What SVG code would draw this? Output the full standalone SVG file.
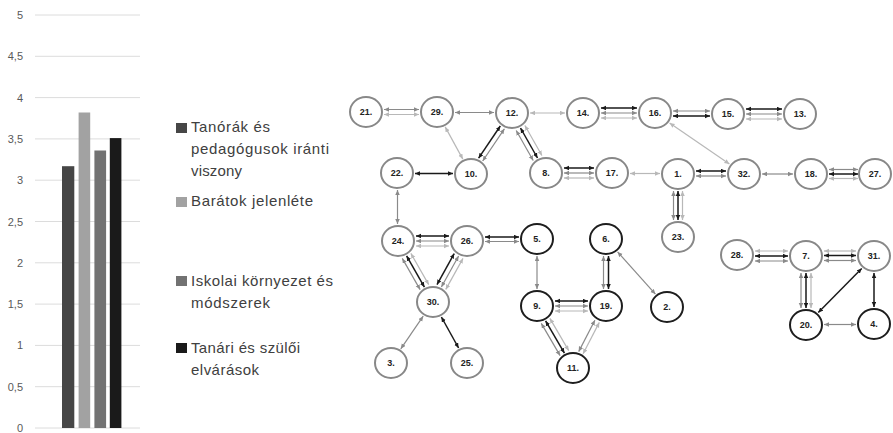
<svg xmlns="http://www.w3.org/2000/svg" width="893" height="433" viewBox="0 0 893 433">
  <style>
    .axis { font-family: "Liberation Sans", Arial, sans-serif; font-size: 11px; fill: #595959; text-anchor: end; }
    .grid { stroke: #dcdcdc; stroke-width: 1; }
    .leg { font-family: "Liberation Sans", Arial, sans-serif; font-size: 15px; fill: #404040; }
    .nd ellipse { fill: #fff; stroke: #888; stroke-width: 2; }
    .nd.k ellipse { stroke: #1e1e1e; }
    .nd text { font-family: "Liberation Sans", Arial, sans-serif; font-weight: bold; font-size: 9px; fill: #222; text-anchor: middle; }
    .b { stroke: #1a1a1a; stroke-width: 1.5; marker-start: url(#mb); marker-end: url(#mb); }
    .g { stroke: #8a8a8a; stroke-width: 1.2; marker-start: url(#mg); marker-end: url(#mg); }
    .l { stroke: #b8b8b8; stroke-width: 1.2; marker-start: url(#ml); marker-end: url(#ml); }
  </style>
  <defs>
    <marker id="mb" markerUnits="userSpaceOnUse" markerWidth="6" markerHeight="5" refX="5" refY="2.25" orient="auto-start-reverse"><path d="M0,0 L5,2.25 L0,4.5 z" fill="#1a1a1a"/></marker>
    <marker id="mg" markerUnits="userSpaceOnUse" markerWidth="6" markerHeight="5" refX="5" refY="2.25" orient="auto-start-reverse"><path d="M0,0 L5,2.25 L0,4.5 z" fill="#8a8a8a"/></marker>
    <marker id="ml" markerUnits="userSpaceOnUse" markerWidth="6" markerHeight="5" refX="5" refY="2.25" orient="auto-start-reverse"><path d="M0,0 L5,2.25 L0,4.5 z" fill="#b8b8b8"/></marker>
  </defs>
  <rect width="893" height="433" fill="#fff"/>

  <!-- bar chart -->
  <g id="chart">
    <g class="grid">
      <line x1="35" y1="428" x2="140" y2="428"/>
      <line x1="35" y1="386.7" x2="140" y2="386.7"/>
      <line x1="35" y1="345.4" x2="140" y2="345.4"/>
      <line x1="35" y1="304.1" x2="140" y2="304.1"/>
      <line x1="35" y1="262.8" x2="140" y2="262.8"/>
      <line x1="35" y1="221.5" x2="140" y2="221.5"/>
      <line x1="35" y1="180.2" x2="140" y2="180.2"/>
      <line x1="35" y1="138.9" x2="140" y2="138.9"/>
      <line x1="35" y1="97.6" x2="140" y2="97.6"/>
      <line x1="35" y1="56.3" x2="140" y2="56.3"/>
      <line x1="35" y1="15" x2="140" y2="15"/>
    </g>
    <g class="axis">
      <text x="23" y="432">0</text>
      <text x="23" y="390.7">0,5</text>
      <text x="23" y="349.4">1</text>
      <text x="23" y="308.1">1,5</text>
      <text x="23" y="266.8">2</text>
      <text x="23" y="225.5">2,5</text>
      <text x="23" y="184.2">3</text>
      <text x="23" y="142.9">3,5</text>
      <text x="23" y="101.6">4</text>
      <text x="23" y="60.3">4,5</text>
      <text x="23" y="19">5</text>
    </g>
    <rect x="62" y="166.2" width="12.3" height="261.8" fill="#464646"/>
    <rect x="78.6" y="112.5" width="11.6" height="315.5" fill="#a2a2a2"/>
    <rect x="94.4" y="150.5" width="11.7" height="277.5" fill="#727272"/>
    <rect x="109.8" y="138.1" width="11.6" height="289.9" fill="#1a1a1a"/>
  </g>

  <!-- legend -->
  <g id="legend">
    <rect x="176" y="123" width="11" height="10" fill="#464646"/>
    <text class="leg" x="191" y="132" textLength="79" lengthAdjust="spacing">Tanórák és</text>
    <text class="leg" x="191" y="154" textLength="138" lengthAdjust="spacing">pedagógusok iránti</text>
    <text class="leg" x="191" y="176" textLength="51" lengthAdjust="spacing">viszony</text>
    <rect x="176" y="197" width="11" height="10" fill="#a2a2a2"/>
    <text class="leg" x="191" y="206" textLength="122" lengthAdjust="spacing">Barátok jelenléte</text>
    <rect x="176" y="276" width="11" height="10" fill="#727272"/>
    <text class="leg" x="191" y="286" textLength="142" lengthAdjust="spacing">Iskolai környezet és</text>
    <text class="leg" x="191" y="308" textLength="79" lengthAdjust="spacing">módszerek</text>
    <rect x="176" y="343" width="11" height="10" fill="#1a1a1a"/>
    <text class="leg" x="191" y="353" textLength="109" lengthAdjust="spacing">Tanári és szülői</text>
    <text class="leg" x="191" y="375" textLength="68" lengthAdjust="spacing">elvárások</text>
  </g>

  <!-- connectors -->
  <g id="edges">
    <!-- 21-29 -->
    <line class="g" x1="384" y1="109.5" x2="419" y2="109.5"/>
    <line class="l" x1="384" y1="114.5" x2="419" y2="114.5"/>
    <!-- 29-12 -->
    <line class="g" x1="455" y1="112.5" x2="494" y2="112.5"/>
    <!-- 12-14 -->
    <line class="l" x1="530" y1="113" x2="565" y2="113"/>
    <!-- 14-16 -->
    <line class="b" x1="601" y1="108" x2="637" y2="108"/>
    <line class="g" x1="601" y1="113" x2="637" y2="113"/>
    <line class="l" x1="601" y1="118" x2="637" y2="118"/>
    <!-- 16-15 -->
    <line class="g" x1="673" y1="111" x2="710" y2="111"/>
    <line class="b" x1="673" y1="116" x2="710" y2="116"/>
    <!-- 15-13 -->
    <line class="b" x1="746" y1="109" x2="782" y2="109"/>
    <line class="g" x1="746" y1="114" x2="782" y2="114"/>
    <line class="l" x1="746" y1="119" x2="782" y2="119"/>
    <!-- 29-10 -->
    <line class="l" x1="445.2" y1="126.9" x2="462.8" y2="159.1"/>
    <!-- 10-12 -->
    <line class="b" x1="478.6" y1="158.2" x2="500.3" y2="126"/>
    <line class="g" x1="482.7" y1="161" x2="504.4" y2="128.8"/>
    <!-- 12-8 -->
    <line class="g" x1="516.2" y1="130.5" x2="533.2" y2="160.5"/>
    <line class="b" x1="520.5" y1="128" x2="537.5" y2="158"/>
    <line class="l" x1="524.9" y1="125.5" x2="541.9" y2="155.5"/>
    <!-- 22-10 -->
    <line class="b" x1="415" y1="173.5" x2="453" y2="173.5"/>
    <!-- 8-17 -->
    <line class="b" x1="564" y1="168" x2="594" y2="168"/>
    <line class="g" x1="564" y1="173" x2="594" y2="173"/>
    <line class="l" x1="564" y1="178" x2="594" y2="178"/>
    <!-- 17-1 -->
    <line class="l" x1="630" y1="173.5" x2="660" y2="173.5"/>
    <!-- 1-32 -->
    <line class="b" x1="696" y1="171" x2="726" y2="171"/>
    <line class="g" x1="696" y1="176" x2="726" y2="176"/>
    <!-- 16-32 -->
    <line class="l" x1="669.6" y1="123" x2="729.4" y2="164"/>
    <!-- 32-18 -->
    <line class="g" x1="762" y1="174" x2="793" y2="174"/>
    <!-- 18-27 -->
    <line class="g" x1="829" y1="169.5" x2="858" y2="169.5"/>
    <line class="b" x1="829" y1="174" x2="858" y2="174"/>
    <line class="l" x1="829" y1="178.5" x2="858" y2="178.5"/>
    <!-- 1-23 -->
    <line class="g" x1="673.5" y1="191" x2="673.5" y2="220"/>
    <line class="b" x1="678" y1="191" x2="678" y2="220"/>
    <line class="l" x1="682.5" y1="191" x2="682.5" y2="220"/>
    <!-- 22-24 -->
    <line class="g" x1="397.5" y1="190" x2="397.5" y2="224"/>
    <!-- 24-26 -->
    <line class="b" x1="416" y1="236" x2="449" y2="236"/>
    <line class="g" x1="416" y1="241" x2="449" y2="241"/>
    <line class="l" x1="416" y1="246" x2="449" y2="246"/>
    <!-- 26-5 -->
    <line class="b" x1="485" y1="237" x2="519" y2="237"/>
    <line class="g" x1="485" y1="241.5" x2="519" y2="241.5"/>
    <!-- 24-30 -->
    <line class="g" x1="402.3" y1="258.4" x2="420.1" y2="289.6"/>
    <line class="b" x1="406.6" y1="255.9" x2="424.4" y2="287.1"/>
    <line class="l" x1="410.9" y1="253.4" x2="428.7" y2="284.6"/>
    <!-- 26-30 -->
    <line class="b" x1="454.2" y1="253.6" x2="437" y2="284.6"/>
    <line class="g" x1="458.6" y1="256" x2="441.4" y2="287"/>
    <line class="l" x1="463" y1="258.4" x2="445.8" y2="289.4"/>
    <!-- 30-3 -->
    <line class="g" x1="423.2" y1="316.2" x2="400.8" y2="348.8"/>
    <!-- 30-25 -->
    <line class="b" x1="441.4" y1="317" x2="458.6" y2="348"/>
    <!-- 5-9 -->
    <line class="g" x1="537" y1="256" x2="537" y2="289"/>
    <!-- 6-19 -->
    <line class="g" x1="603.5" y1="256" x2="603.5" y2="289"/>
    <line class="b" x1="608.5" y1="256" x2="608.5" y2="289"/>
    <!-- 6-2 -->
    <line class="g" x1="617.6" y1="251.9" x2="655.4" y2="294.1"/>
    <!-- 9-19 -->
    <line class="b" x1="555" y1="301" x2="588" y2="301"/>
    <line class="g" x1="555" y1="306" x2="588" y2="306"/>
    <line class="l" x1="555" y1="311" x2="588" y2="311"/>
    <!-- 9-11 -->
    <line class="g" x1="541.3" y1="323.4" x2="560.1" y2="355.6"/>
    <line class="b" x1="545.6" y1="320.9" x2="564.4" y2="353.1"/>
    <line class="l" x1="549.9" y1="318.4" x2="568.7" y2="350.6"/>
    <!-- 19-11 -->
    <line class="g" x1="594.9" y1="320.2" x2="578.7" y2="351.6"/>
    <line class="l" x1="599.3" y1="322.4" x2="583.1" y2="353.8"/>
    <!-- 28-7 -->
    <line class="l" x1="755" y1="251" x2="788" y2="251"/>
    <line class="b" x1="755" y1="256" x2="788" y2="256"/>
    <line class="g" x1="755" y1="261" x2="788" y2="261"/>
    <!-- 7-31 -->
    <line class="l" x1="824" y1="251" x2="856" y2="251"/>
    <line class="b" x1="824" y1="255.5" x2="856" y2="255.5"/>
    <line class="g" x1="824" y1="260.5" x2="856" y2="260.5"/>
    <!-- 7-20 -->
    <line class="g" x1="801" y1="273" x2="801" y2="308"/>
    <line class="b" x1="806" y1="273" x2="806" y2="308"/>
    <line class="l" x1="811" y1="273" x2="811" y2="308"/>
    <!-- 31-20 -->
    <line class="b" x1="861.7" y1="268.5" x2="818.3" y2="312.5"/>
    <!-- 31-4 -->
    <line class="b" x1="874" y1="273" x2="874" y2="307"/>
    <!-- 20-4 -->
    <line class="g" x1="824" y1="324.5" x2="856" y2="324.5"/>
  </g>

  <!-- nodes -->
  <g id="n21" class="nd"><ellipse cx="366" cy="112" rx="16" ry="15"/><text x="366" y="115.2">21.</text></g>
  <g id="n29" class="nd"><ellipse cx="437" cy="112" rx="16" ry="15"/><text x="437" y="115.2">29.</text></g>
  <g id="n12" class="nd"><ellipse cx="512" cy="113" rx="16" ry="15"/><text x="512" y="116.2">12.</text></g>
  <g id="n14" class="nd"><ellipse cx="583" cy="113" rx="16" ry="15"/><text x="583" y="116.2">14.</text></g>
  <g id="n16" class="nd"><ellipse cx="655" cy="113" rx="16" ry="15"/><text x="655" y="116.2">16.</text></g>
  <g id="n15" class="nd"><ellipse cx="728" cy="114" rx="16" ry="15"/><text x="728" y="117.2">15.</text></g>
  <g id="n13" class="nd"><ellipse cx="800" cy="114" rx="16" ry="15"/><text x="800" y="117.2">13.</text></g>
  <g id="n22" class="nd"><ellipse cx="397" cy="173" rx="16" ry="15"/><text x="397" y="176.2">22.</text></g>
  <g id="n10" class="nd"><ellipse cx="471" cy="174" rx="16" ry="15"/><text x="471" y="177.2">10.</text></g>
  <g id="n8" class="nd"><ellipse cx="546" cy="173" rx="16" ry="15"/><text x="546" y="176.2">8.</text></g>
  <g id="n17" class="nd"><ellipse cx="612" cy="173" rx="16" ry="15"/><text x="612" y="176.2">17.</text></g>
  <g id="n1" class="nd"><ellipse cx="678" cy="174" rx="16" ry="15"/><text x="678" y="177.2">1.</text></g>
  <g id="n32" class="nd"><ellipse cx="744" cy="174" rx="16" ry="15"/><text x="744" y="177.2">32.</text></g>
  <g id="n18" class="nd"><ellipse cx="811" cy="174" rx="16" ry="15"/><text x="811" y="177.2">18.</text></g>
  <g id="n27" class="nd"><ellipse cx="875" cy="174" rx="16" ry="15"/><text x="875" y="177.2">27.</text></g>
  <g id="n24" class="nd"><ellipse cx="398" cy="241" rx="16" ry="15"/><text x="398" y="244.2">24.</text></g>
  <g id="n26" class="nd"><ellipse cx="467" cy="241" rx="16" ry="15"/><text x="467" y="244.2">26.</text></g>
  <g id="n5" class="nd k"><ellipse cx="537" cy="239" rx="16" ry="15"/><text x="537" y="242.2">5.</text></g>
  <g id="n6" class="nd k"><ellipse cx="606" cy="239" rx="16" ry="15"/><text x="606" y="242.2">6.</text></g>
  <g id="n23" class="nd"><ellipse cx="678" cy="237" rx="16" ry="15"/><text x="678" y="240.2">23.</text></g>
  <g id="n28" class="nd"><ellipse cx="737" cy="255" rx="16" ry="15"/><text x="737" y="258.2">28.</text></g>
  <g id="n7" class="nd"><ellipse cx="806" cy="256" rx="16" ry="15"/><text x="806" y="259.2">7.</text></g>
  <g id="n31" class="nd"><ellipse cx="874" cy="256" rx="16" ry="15"/><text x="874" y="259.2">31.</text></g>
  <g id="n30" class="nd"><ellipse cx="433" cy="302" rx="16" ry="15"/><text x="433" y="305.2">30.</text></g>
  <g id="n9" class="nd k"><ellipse cx="537" cy="306" rx="16" ry="15"/><text x="537" y="309.2">9.</text></g>
  <g id="n19" class="nd k"><ellipse cx="606" cy="306" rx="16" ry="15"/><text x="606" y="309.2">19.</text></g>
  <g id="n2" class="nd k"><ellipse cx="667" cy="307" rx="16" ry="15"/><text x="667" y="310.2">2.</text></g>
  <g id="n20" class="nd k"><ellipse cx="806" cy="325" rx="16" ry="15"/><text x="806" y="328.2">20.</text></g>
  <g id="n4" class="nd k"><ellipse cx="874" cy="324" rx="16" ry="15"/><text x="874" y="327.2">4.</text></g>
  <g id="n3" class="nd"><ellipse cx="391" cy="363" rx="16" ry="15"/><text x="391" y="366.2">3.</text></g>
  <g id="n25" class="nd"><ellipse cx="467" cy="363" rx="16" ry="15"/><text x="467" y="366.2">25.</text></g>
  <g id="n11" class="nd k"><ellipse cx="573" cy="368" rx="16" ry="15"/><text x="573" y="371.2">11.</text></g>
</svg>
